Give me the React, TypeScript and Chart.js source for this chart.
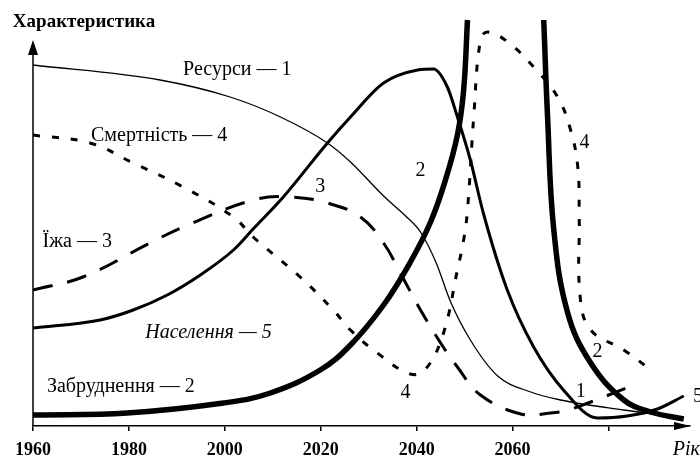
import React, { useEffect, useRef } from "react";
import { Chart, registerables } from "chart.js";

Chart.register(...registerables);

// ---- axis ticks ----
const tickYears = [1960, 1980, 2000, 2020, 2040, 2060, 2080];
const tickLabels = ["1960", "1980", "2000", "2020", "2040", "2060", ""];

// ---- 1: Resources (thin solid) ----
const resourcesYears = [1960, 1986.5, 2001.1, 2011.6, 2021.4, 2026.2, 2033.1, 2037.7, 2040.8, 2044, 2047.1, 2051.2, 2056.9, 2063.8, 2070, 2083.2, 2095.7];
const resourcesValues = [90.25, 86.5, 82.25, 77.25, 70.75, 66, 57.5, 52.5, 48.5, 41, 31, 21.5, 12.5, 8.5, 6.5, 4, 2];

// ---- 2: Pollution (thick solid), rising branch and falling branch ----
const pollutionRiseYears = [1960, 1979.6, 1999.7, 2009.5, 2019.9, 2026.2, 2033.1, 2038.7, 2042.9, 2046, 2048.5, 2049.8, 2050.6];
const pollutionRiseValues = [2.75, 3.25, 5.75, 8.25, 14, 20.25, 30.25, 41, 51, 61.5, 72.75, 84, 101.5];
const pollutionFallYears = [2066.5, 2067.3, 2068.6, 2071.5, 2076.3, 2083.2, 2088.8, 2095.7];
const pollutionFallValues = [101.5, 77.25, 49, 28.25, 15.75, 6.5, 3.5, 1.75];

// ---- 3: Food (long dashes) ----
const foodYears = [1960, 1970.4, 1984.4, 1991.3, 2005.9, 2013.7, 2021.4, 2028.3, 2033.1, 2036.6, 2040.8, 2045, 2048.5, 2053.3, 2061.7, 2067.9, 2071.5, 2076.3, 2086.3];
const foodValues = [34, 37.25, 45.75, 49.75, 56.5, 57.25, 55.75, 52.25, 45.75, 38.25, 29, 20.75, 14.75, 7.75, 3, 3.25, 4, 6, 10.75];

// ---- 4: Mortality (short dashes) ----
const mortalityYears = [1960, 1971.9, 1980.9, 1991.3, 2001.8, 2005.9, 2015.7, 2022.6, 2026.2, 2031.8, 2038.7, 2041.9, 2045.6, 2048.5, 2049.8, 2050.6, 2051.9, 2053.3, 2054.8, 2059, 2064.4, 2069.4, 2072.1, 2073.6, 2073.9, 2074.1, 2076.3, 2083.2, 2089.4];
const mortalityValues = [72.75, 70.75, 65.75, 59.75, 52.25, 47.25, 37.25, 29, 24, 18.25, 13, 14.25, 23.25, 39, 46.5, 54, 77.25, 96.5, 98.5, 96, 89.75, 82.25, 74, 64.75, 52.25, 32.25, 24, 19, 13.5];

// ---- 5: Population (medium solid) ----
const populationYears = [1960, 1974, 1980.9, 1988, 1994.9, 2001.8, 2005.9, 2012.2, 2021.4, 2026.2, 2033.1, 2040.2, 2043.5, 2046.4, 2048.5, 2051.2, 2053.9, 2058.9, 2064.4, 2070.6, 2077.7, 2083.9, 2090.2, 2095.7];
const populationValues = [24.5, 26.5, 29, 32.75, 37.75, 44, 49.25, 57.25, 70.75, 77.25, 85.75, 89, 89.25, 84.75, 77.25, 66.5, 53.25, 34, 19.75, 9, 2, 2.5, 4.25, 7.5];

const zip = (xs: number[], ys: number[]) => xs.map((x, i) => ({ x, y: ys[i] }));

const SERIF = '"Liberation Serif", "DejaVu Serif", "Times New Roman", serif';

type Note = { text: string; x: number; y: number; font: string; align: CanvasTextAlign };

const notes: Note[] = [
  { text: "Характеристика", x: 1955.8, y: 101, font: `bold 19px ${SERIF}`, align: "left" },
  { text: "Ресурси — 1", x: 1991.3, y: 89, font: `20px ${SERIF}`, align: "left" },
  { text: "Смертність — 4", x: 1972.1, y: 72.5, font: `20px ${SERIF}`, align: "left" },
  { text: "Їжа — 3", x: 1962, y: 46, font: `20px ${SERIF}`, align: "left" },
  { text: "Населення — 5", x: 1983.4, y: 23.25, font: `italic 20px ${SERIF}`, align: "left" },
  { text: "Забруднення — 2", x: 1962.9, y: 9.75, font: `20px ${SERIF}`, align: "left" },
  { text: "3", x: 2019.9, y: 59.75, font: `20px ${SERIF}`, align: "center" },
  { text: "2", x: 2040.8, y: 63.75, font: `20px ${SERIF}`, align: "center" },
  { text: "4", x: 2075, y: 70.75, font: `20px ${SERIF}`, align: "center" },
  { text: "4", x: 2037.7, y: 8.25, font: `20px ${SERIF}`, align: "center" },
  { text: "1", x: 2074.2, y: 8.5, font: `20px ${SERIF}`, align: "center" },
  { text: "2", x: 2077.7, y: 18.5, font: `20px ${SERIF}`, align: "center" },
  { text: "5", x: 2097.6, y: 7.25, font: `20px ${SERIF}`, align: "left" },
  { text: "Рік", x: 2093.4, y: -6, font: `italic 20px ${SERIF}`, align: "left" },
];

const Y_AXIS_TOP = 96.5;

const axesAndText = {
  id: "axesAndText",
  afterDraw(chart: any) {
    const { ctx, scales, chartArea } = chart;
    const xs = scales.x;
    const ys = scales.y;
    const x0 = xs.getPixelForValue(1960);
    const yb = ys.getPixelForValue(0);
    const yt = ys.getPixelForValue(Y_AXIS_TOP);
    ctx.save();
    ctx.strokeStyle = "#000";
    ctx.fillStyle = "#000";
    ctx.lineWidth = 1.5;
    // y axis with arrow
    ctx.beginPath();
    ctx.moveTo(x0, yb);
    ctx.lineTo(x0, yt + 10);
    ctx.stroke();
    ctx.beginPath();
    ctx.moveTo(x0, yt);
    ctx.lineTo(x0 - 5, yt + 15);
    ctx.lineTo(x0 + 5, yt + 15);
    ctx.closePath();
    ctx.fill();
    // x axis arrow head
    const xr = chartArea.right;
    ctx.beginPath();
    ctx.moveTo(xr + 1, yb);
    ctx.lineTo(xr - 16, yb - 4);
    ctx.lineTo(xr - 16, yb + 4);
    ctx.closePath();
    ctx.fill();
    // text notes
    ctx.textBaseline = "middle";
    for (const n of notes) {
      ctx.font = n.font;
      ctx.textAlign = n.align;
      ctx.fillText(n.text, xs.getPixelForValue(n.x), ys.getPixelForValue(n.y));
    }
    ctx.restore();
  },
};

export default function App() {
  const ref = useRef<HTMLCanvasElement>(null);

  useEffect(() => {
    const base = {
      pointRadius: 0,
      fill: false,
      borderColor: "#000",
      tension: 0.4,
    };
    const mono = { ...base, cubicInterpolationMode: "monotone" as const };
    const chart = new Chart(ref.current!, {
      type: "line",
      data: {
        datasets: [
          { ...mono, label: "Ресурси — 1", data: zip(resourcesYears, resourcesValues), borderWidth: 1.3 },
          { ...base, label: "Смертність — 4", data: zip(mortalityYears, mortalityValues), borderWidth: 3, borderDash: [7, 12] },
          { ...base, label: "Їжа — 3", data: zip(foodYears, foodValues), borderWidth: 3, borderDash: [20, 15] },
          { ...mono, label: "Населення — 5", data: zip(populationYears, populationValues), borderWidth: 3 },
          { ...base, label: "Забруднення — 2", data: zip(pollutionRiseYears, pollutionRiseValues), borderWidth: 5.5 },
          { ...base, label: "Забруднення — 2 ", data: zip(pollutionFallYears, pollutionFallValues), borderWidth: 5.5 },
        ],
      },
      options: {
        responsive: false,
        maintainAspectRatio: false,
        animation: false,
        layout: { padding: { left: 33, right: 10, top: 18, bottom: 0 } },
        plugins: {
          legend: { display: false },
          tooltip: { enabled: false },
        },
        scales: {
          x: {
            type: "linear",
            min: 1960,
            max: 2097,
            afterBuildTicks: (scale: any) => {
              scale.ticks = tickYears.map((v) => ({ value: v }));
            },
            afterFit: (scale: any) => {
              scale.height = 34;
            },
            border: { display: true, color: "#000", width: 1.5 },
            grid: { display: true, drawOnChartArea: false, drawTicks: true, tickLength: 5, color: "#000", lineWidth: 1.5 },
            ticks: {
              color: "#000",
              padding: 9,
              maxRotation: 0,
              autoSkip: false,
              font: { family: SERIF, size: 18, weight: "bold" },
              callback: (v: any) => tickLabels[tickYears.indexOf(Number(v))] ?? "",
            },
          },
          y: {
            type: "linear",
            display: false,
            min: 0,
            max: 102,
          },
        },
      },
      plugins: [axesAndText],
    });
    return () => chart.destroy();
  }, []);

  return (
    <div style={{ position: "fixed", left: 0, top: 0, width: 700, height: 460, background: "#fff" }}>
      <canvas ref={ref} width={700} height={460} style={{ display: "block" }} />
    </div>
  );
}
